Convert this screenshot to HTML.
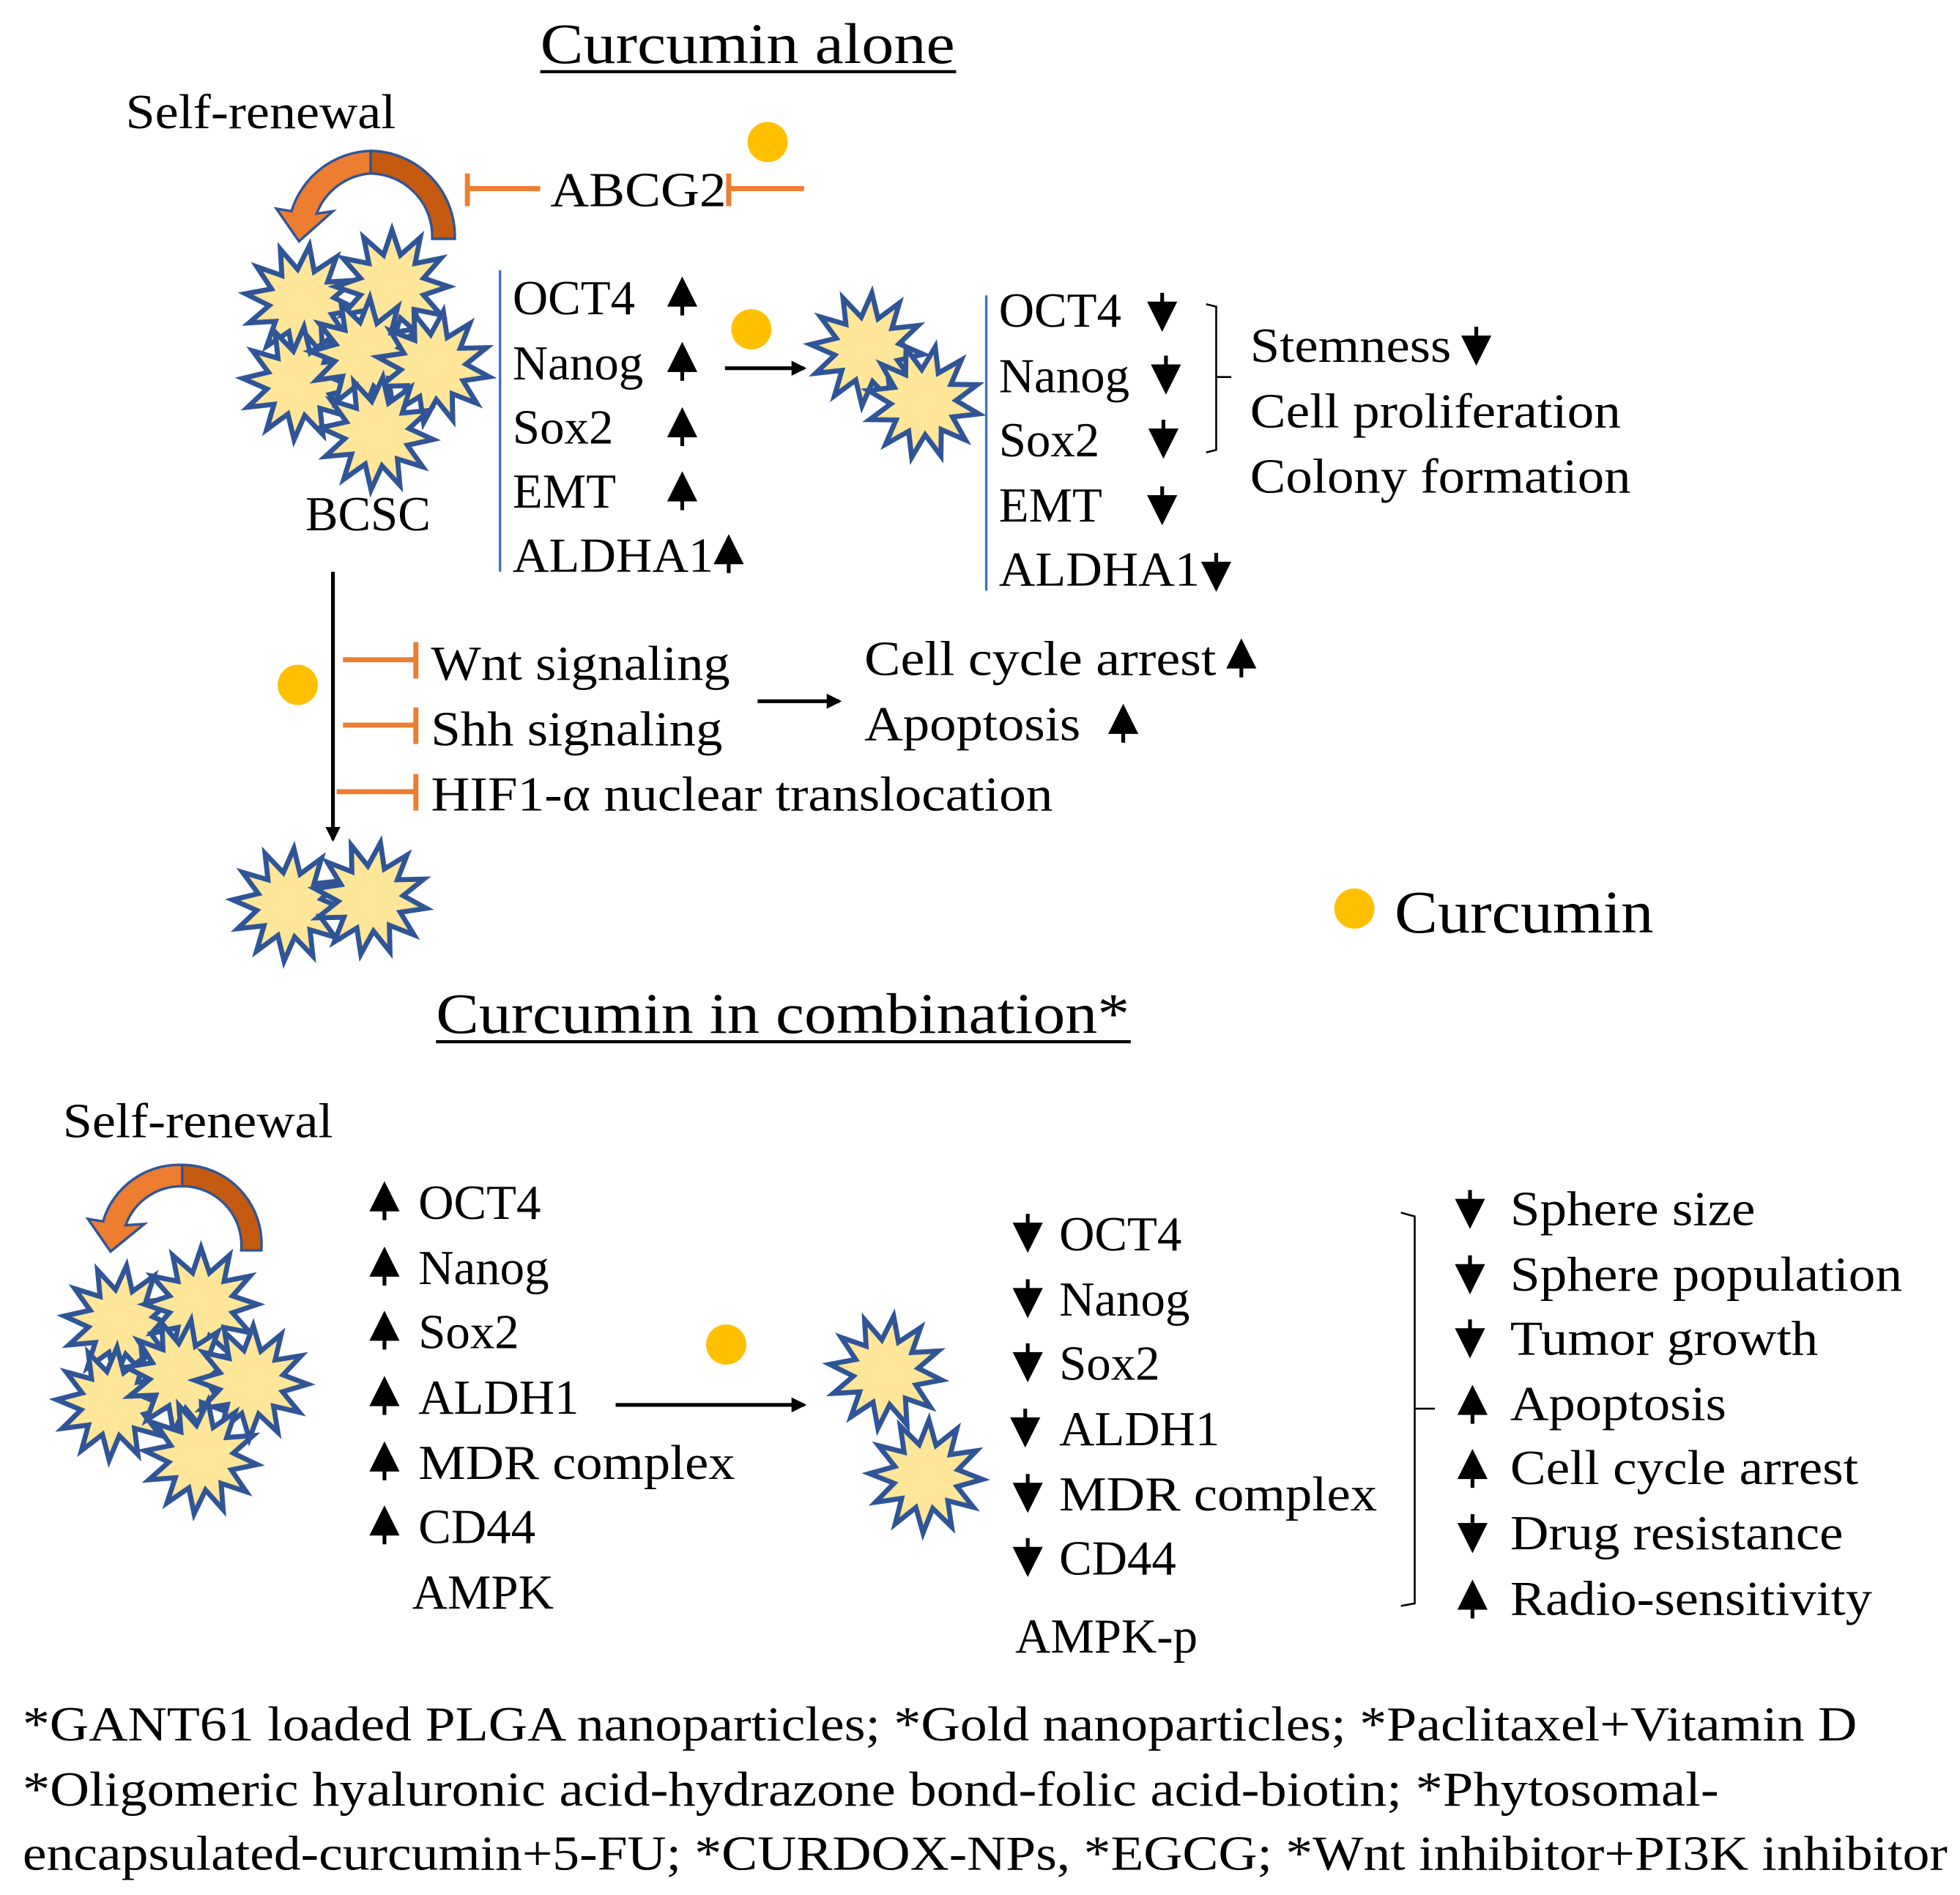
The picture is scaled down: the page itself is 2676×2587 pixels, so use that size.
<!DOCTYPE html>
<html><head><meta charset="utf-8"><style>
html,body{margin:0;padding:0;background:#fff}
svg{display:block}
text{font-family:"Liberation Serif",serif;fill:#000}
</style></head><body>
<svg width="2676" height="2587" viewBox="0 0 1560 1508" xmlns="http://www.w3.org/2000/svg">
<defs>
<path id="st" d="M45,0 L25.1,6.7 L39,22.5 L18.4,18.4 L22.5,39 L6.7,25.1 L0,45 L-6.7,25.1 L-22.5,39 L-18.4,18.4 L-39,22.5 L-25.1,6.7 L-45,0 L-25.1,-6.7 L-39,-22.5 L-18.4,-18.4 L-22.5,-39 L-6.7,-25.1 L0,-45 L6.7,-25.1 L22.5,-39 L18.4,-18.4 L39,-22.5 L25.1,-6.7 Z" fill="#FFE699" stroke="#2F5597" stroke-width="4" stroke-linejoin="miter"/>
<path id="up" d="M0,-16 L-12,8 L-1.5,8 L-1.5,15 L1.5,15 L1.5,8 L12,8 Z" fill="#000"/>
<path id="dn" d="M0,16 L-12,-8 L-1.5,-8 L-1.5,-15 L1.5,-15 L1.5,-8 L12,-8 Z" fill="#000"/>
<marker id="ah" markerWidth="12" markerHeight="12" refX="10" refY="6" orient="auto" markerUnits="userSpaceOnUse" viewBox="0 0 12 12"><path d="M0,0 L12,6 L0,12 Z" fill="#000"/></marker>
</defs>
<g font-size="39">
<text x="430" y="50" font-size="46" textLength="330" lengthAdjust="spacingAndGlyphs">Curcumin alone</text>
<line x1="430" y1="57" x2="761" y2="57" stroke="#000" stroke-width="2.5"/>
<text x="100" y="102" textLength="215" lengthAdjust="spacingAndGlyphs">Self-renewal</text>
<path d="M362,190 A68,68 0 0 0 295,120 L295,138 A50,50 0 0 1 344,190 Z" fill="#C55A11" stroke="#2F5597" stroke-width="2"/>
<path d="M295,120 A68,68 0 0 0 232,168 L220,166 L238,192 L265,168 L252,170 A50,50 0 0 1 295,138 Z" fill="#ED7D31" stroke="#2F5597" stroke-width="2"/>
<g stroke="#ED7D31" stroke-width="4">
<line x1="372" y1="150" x2="430" y2="150"/><line x1="372" y1="138" x2="372" y2="164"/>
<line x1="580" y1="150" x2="640" y2="150"/><line x1="580" y1="138" x2="580" y2="164"/>
</g>
<text x="438" y="164" textLength="140" lengthAdjust="spacingAndGlyphs">ABCG2</text>
<circle cx="611" cy="113" r="16" fill="#FFC000"/>
<use href="#st" transform="translate(240,240) rotate(8)"/>
<use href="#st" transform="translate(312,228)"/>
<use href="#st" transform="translate(238,305) rotate(5)"/>
<use href="#st" transform="translate(292,282) rotate(3)"/>
<use href="#st" transform="translate(345,292) rotate(10)"/>
<use href="#st" transform="translate(300,345) rotate(6)"/>
<text x="243" y="422">BCSC</text>
<line x1="398" y1="215" x2="398" y2="455" stroke="#4472C4" stroke-width="2"/>
<text x="408" y="250">OCT4</text><use href="#up" transform="translate(543,236)"/>
<text x="408" y="302">Nanog</text><use href="#up" transform="translate(543,288)"/>
<text x="408" y="353">Sox2</text><use href="#up" transform="translate(543,340)"/>
<text x="408" y="404">EMT</text><use href="#up" transform="translate(543,391)"/>
<text x="408" y="455" textLength="160" lengthAdjust="spacingAndGlyphs">ALDHA1</text><use href="#up" transform="translate(580,441)"/>
<circle cx="598" cy="262" r="16" fill="#FFC000"/>
<line x1="577" y1="293" x2="640" y2="293" stroke="#000" stroke-width="3" marker-end="url(#ah)"/>
<use href="#st" transform="translate(690,278) rotate(5)"/>
<use href="#st" transform="translate(735,320) rotate(12)"/>
<line x1="785" y1="235" x2="785" y2="470" stroke="#4472C4" stroke-width="2"/>
<text x="795" y="260">OCT4</text><use href="#dn" transform="translate(925,248)"/>
<text x="795" y="312">Nanog</text><use href="#dn" transform="translate(928,298)"/>
<text x="795" y="363">Sox2</text><use href="#dn" transform="translate(926,349)"/>
<text x="795" y="415">EMT</text><use href="#dn" transform="translate(925,402)"/>
<text x="795" y="466" textLength="160" lengthAdjust="spacingAndGlyphs">ALDHA1</text><use href="#dn" transform="translate(968,455)"/>
<path d="M960,242 L968,244 L968,358 L960,360 M968,300 L980,300" fill="none" stroke="#000" stroke-width="1.5"/>
<text x="995" y="288" textLength="160" lengthAdjust="spacingAndGlyphs">Stemness</text><use href="#dn" transform="translate(1175,275)"/>
<text x="995" y="340" textLength="295" lengthAdjust="spacingAndGlyphs">Cell proliferation</text>
<text x="995" y="392" textLength="303" lengthAdjust="spacingAndGlyphs">Colony formation</text>
<line x1="265" y1="455" x2="265" y2="668" stroke="#000" stroke-width="3" marker-end="url(#ah)"/>
<circle cx="237" cy="545" r="16" fill="#FFC000"/>
<g stroke="#ED7D31" stroke-width="4">
<line x1="273" y1="525" x2="331" y2="525"/><line x1="331" y1="511" x2="331" y2="540"/>
<line x1="273" y1="577" x2="331" y2="577"/><line x1="331" y1="563" x2="331" y2="592"/>
<line x1="268" y1="630" x2="331" y2="630"/><line x1="331" y1="616" x2="331" y2="645"/>
</g>
<text x="343" y="541" textLength="238" lengthAdjust="spacingAndGlyphs">Wnt signaling</text>
<text x="343" y="593" textLength="232" lengthAdjust="spacingAndGlyphs">Shh signaling</text>
<text x="343" y="645" textLength="495" lengthAdjust="spacingAndGlyphs">HIF1-α nuclear translocation</text>
<line x1="603" y1="558" x2="668" y2="558" stroke="#000" stroke-width="3" marker-end="url(#ah)"/>
<text x="688" y="537" textLength="280" lengthAdjust="spacingAndGlyphs">Cell cycle arrest</text><use href="#up" transform="translate(988,524)"/>
<text x="688" y="589" textLength="172" lengthAdjust="spacingAndGlyphs">Apoptosis</text><use href="#up" transform="translate(894,576)"/>
<use href="#st" transform="translate(230,720) rotate(5)"/>
<use href="#st" transform="translate(295,715) rotate(10)"/>
<circle cx="1078" cy="723" r="16" fill="#FFC000"/>
<text x="1110" y="742" font-size="48" textLength="206" lengthAdjust="spacingAndGlyphs">Curcumin</text>
<text x="347" y="822" font-size="46" textLength="552" lengthAdjust="spacingAndGlyphs">Curcumin in combination*</text>
<line x1="347" y1="829" x2="900" y2="829" stroke="#000" stroke-width="2.5"/>
<text x="50" y="905" textLength="215" lengthAdjust="spacingAndGlyphs">Self-renewal</text>
<path d="M208,995 A63,63 0 0 0 145,927 L145,944 A47,47 0 0 1 192,995 Z" fill="#C55A11" stroke="#2F5597" stroke-width="2"/>
<path d="M145,927 A63,63 0 0 0 82,972 L70,970 L88,996 L115,974 L100,975 A47,47 0 0 1 145,944 Z" fill="#ED7D31" stroke="#2F5597" stroke-width="2"/>
<use href="#st" transform="translate(96,1052) rotate(6)"/>
<use href="#st" transform="translate(160,1038)"/>
<use href="#st" transform="translate(90,1117) rotate(4)"/>
<use href="#st" transform="translate(145,1095) rotate(9)"/>
<use href="#st" transform="translate(200,1100) rotate(2)"/>
<use href="#st" transform="translate(160,1160) rotate(7)"/>
<use href="#up" transform="translate(306,956)"/><text x="333" y="970">OCT4</text>
<use href="#up" transform="translate(306,1008)"/><text x="333" y="1022">Nanog</text>
<use href="#up" transform="translate(306,1059)"/><text x="333" y="1073">Sox2</text>
<use href="#up" transform="translate(306,1111)"/><text x="333" y="1125">ALDH1</text>
<use href="#up" transform="translate(306,1163)"/><text x="333" y="1177" textLength="252" lengthAdjust="spacingAndGlyphs">MDR complex</text>
<use href="#up" transform="translate(306,1214)"/><text x="333" y="1228">CD44</text>
<text x="328" y="1280">AMPK</text>
<circle cx="578" cy="1070" r="16" fill="#FFC000"/>
<line x1="490" y1="1118" x2="640" y2="1118" stroke="#000" stroke-width="3" marker-end="url(#ah)"/>
<use href="#st" transform="translate(705,1092) rotate(8)"/>
<use href="#st" transform="translate(737,1175) rotate(3)"/>
<use href="#dn" transform="translate(818,981)"/><text x="843" y="995">OCT4</text>
<use href="#dn" transform="translate(818,1033)"/><text x="843" y="1047">Nanog</text>
<use href="#dn" transform="translate(818,1084)"/><text x="843" y="1098">Sox2</text>
<use href="#dn" transform="translate(816,1136)"/><text x="843" y="1150">ALDH1</text>
<use href="#dn" transform="translate(818,1188)"/><text x="843" y="1202" textLength="253" lengthAdjust="spacingAndGlyphs">MDR complex</text>
<use href="#dn" transform="translate(818,1239)"/><text x="843" y="1253">CD44</text>
<text x="808" y="1315">AMPK-p</text>
<path d="M1115,965 L1126,968 L1126,1276 L1115,1278 M1126,1121 L1142,1121" fill="none" stroke="#000" stroke-width="1.5"/>
<use href="#dn" transform="translate(1170,962)"/><text x="1202" y="975" textLength="195" lengthAdjust="spacingAndGlyphs">Sphere size</text>
<use href="#dn" transform="translate(1170,1014)"/><text x="1202" y="1027" textLength="312" lengthAdjust="spacingAndGlyphs">Sphere population</text>
<use href="#dn" transform="translate(1170,1065)"/><text x="1202" y="1078" textLength="245" lengthAdjust="spacingAndGlyphs">Tumor growth</text>
<use href="#up" transform="translate(1172,1118)"/><text x="1202" y="1130" textLength="172" lengthAdjust="spacingAndGlyphs">Apoptosis</text>
<use href="#up" transform="translate(1172,1169)"/><text x="1202" y="1181" textLength="277" lengthAdjust="spacingAndGlyphs">Cell cycle arrest</text>
<use href="#dn" transform="translate(1172,1220)"/><text x="1202" y="1233" textLength="265" lengthAdjust="spacingAndGlyphs">Drug resistance</text>
<use href="#up" transform="translate(1172,1273)"/><text x="1202" y="1285" textLength="288" lengthAdjust="spacingAndGlyphs">Radio-sensitivity</text>
<text x="18" y="1385" textLength="1460" lengthAdjust="spacingAndGlyphs">*GANT61 loaded PLGA nanoparticles; *Gold nanoparticles; *Paclitaxel+Vitamin D</text>
<text x="18" y="1437" textLength="1350" lengthAdjust="spacingAndGlyphs">*Oligomeric hyaluronic acid-hydrazone bond-folic acid-biotin; *Phytosomal-</text>
<text x="18" y="1488" textLength="1532" lengthAdjust="spacingAndGlyphs">encapsulated-curcumin+5-FU; *CURDOX-NPs, *EGCG; *Wnt inhibitor+PI3K inhibitor</text>
</g>
</svg>
</body></html>
